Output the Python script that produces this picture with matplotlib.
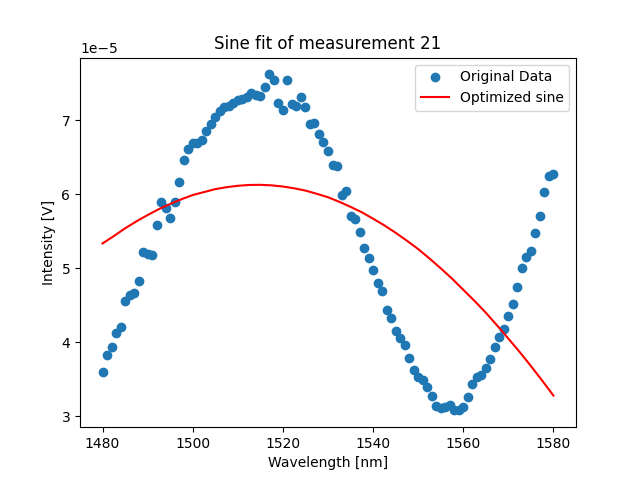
import matplotlib
matplotlib.use('Agg')
import matplotlib.pyplot as plt
import numpy as np

# measured intensity (units of 1e-5 V), one point per nm from 1480 to 1580
wavelength = np.arange(1480, 1581, 1)
intensity = np.array([
    3.60, 3.83, 3.94, 4.13, 4.21, 4.56, 4.64, 4.67, 4.83, 5.22,
    5.19, 5.18, 5.58, 5.89, 5.82, 5.68, 5.89, 6.16, 6.46, 6.61,
    6.69, 6.69, 6.73, 6.85, 6.95, 7.05, 7.12, 7.18, 7.19, 7.23,
    7.28, 7.29, 7.32, 7.37, 7.34, 7.33, 7.45, 7.62, 7.55, 7.24,
    7.14, 7.54, 7.22, 7.19, 7.32, 7.18, 6.95, 6.97, 6.82, 6.70,
    6.58, 6.39, 6.38, 5.99, 6.04, 5.71, 5.66, 5.49, 5.27, 5.14,
    4.98, 4.80, 4.69, 4.44, 4.33, 4.15, 4.06, 3.97, 3.79, 3.62,
    3.53, 3.49, 3.39, 3.27, 3.14, 3.11, 3.12, 3.15, 3.09, 3.08,
    3.12, 3.26, 3.44, 3.53, 3.56, 3.65, 3.77, 3.94, 4.07, 4.18,
    4.36, 4.52, 4.75, 5.00, 5.15, 5.23, 5.48, 5.71, 6.03, 6.25,
    6.27,
]) * 1e-5

# fitted sine curve, read every 2.5 nm
fit_wavelength = np.arange(1480, 1580.1, 2.5)
fit_intensity = np.array([
    5.336, 5.435, 5.54, 5.634, 5.72, 5.80, 5.87, 5.933, 5.99, 6.03,
    6.07, 6.096, 6.115, 6.126, 6.128, 6.121, 6.105, 6.081, 6.05, 6.007,
    5.96, 5.899, 5.83, 5.757, 5.67, 5.58, 5.48, 5.373, 5.26, 5.133,
    5.00, 4.861, 4.71, 4.559, 4.40, 4.228, 4.05, 3.87, 3.68, 3.483,
    3.28,
]) * 1e-5

fig, ax = plt.subplots(figsize=(6.4, 4.8), dpi=100)
ax.scatter(wavelength, intensity, label='Original Data')
ax.plot(fit_wavelength, fit_intensity, color='red', label='Optimized sine')

ax.set_title('Sine fit of measurement 21')
ax.set_xlabel('Wavelength [nm]')
ax.set_ylabel('Intensity [V]')
ax.legend(loc='upper right')

fig.savefig('out.png', dpi=100)
plt.close(fig)
